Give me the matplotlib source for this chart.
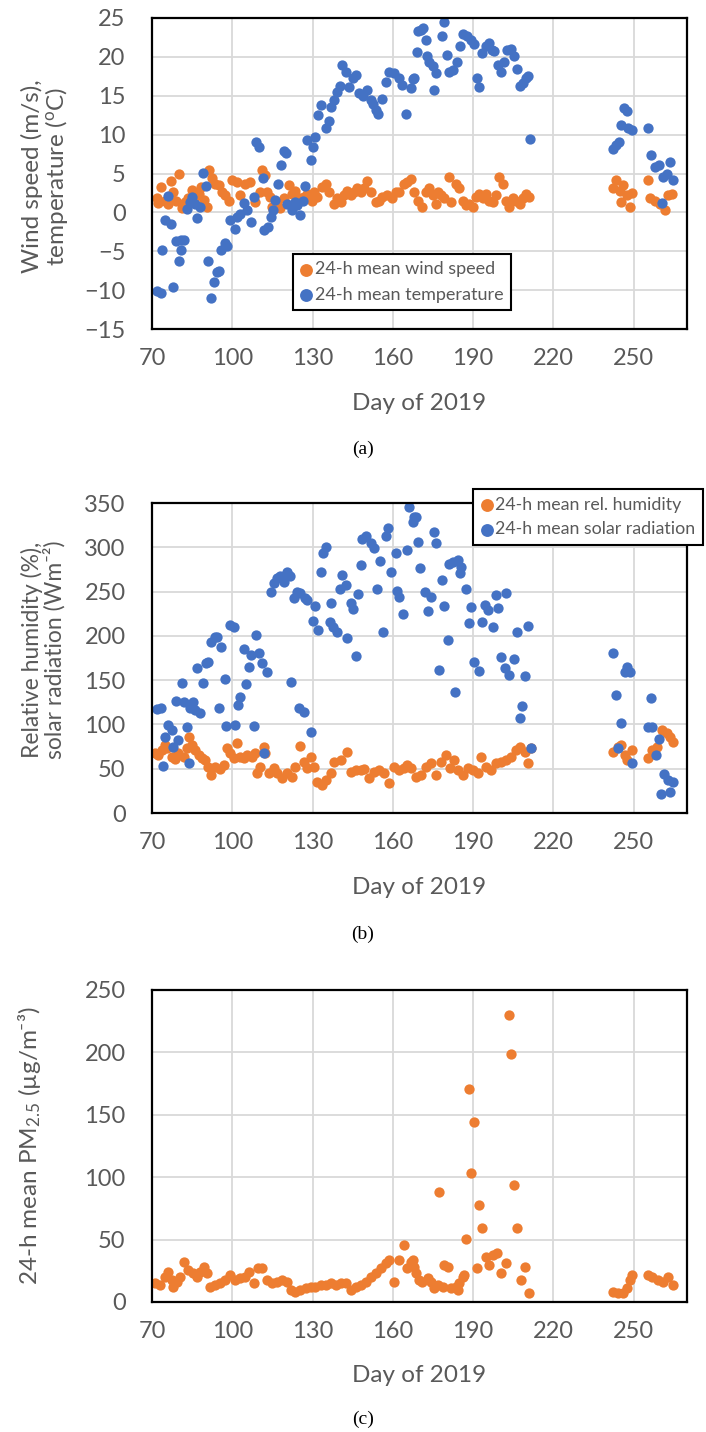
import matplotlib
matplotlib.use("Agg")
import matplotlib.pyplot as plt

# ---------------------------------------------------------------------------
# data (day of 2019, 24-h means)
# ---------------------------------------------------------------------------
wind_day = [72, 72.4, 73.3, 74.9, 76.1, 77, 78, 79, 80.1, 81.1,
            82.4, 83.6, 84.9, 86.1, 87.4, 88.3, 89.3, 90.5, 91.4, 92.4,
            93.6, 95.1, 96.1, 97.4, 98.6, 99.9, 101.8, 103, 104.9, 106.8,
            108.6, 110.3, 111.1, 112.4, 113, 114, 114.9, 116.8, 118, 119.5,
            121.1, 122.4, 123.6, 125.3, 126.8, 128, 129.9, 130.5, 131.8, 133.6,
            134.9, 136.1, 138, 139.3, 140.5, 141.8, 143, 144.3, 145.5, 146.8,
            148, 149.3, 150.3, 151.8, 153.6, 154.9, 156.1, 158, 159.9, 161.1,
            162.4, 164.3, 165.5, 166.8, 168, 169.3, 171.1, 172.4, 173.6, 174.9,
            176.1, 176.8, 178, 179.3, 181.1, 181.8, 183.6, 184.9, 186.1, 187.4,
            188.6, 189.9, 191.1, 192.4, 193.6, 194.9, 196.1, 197.4, 198.6, 199.9,
            201.1, 202.4, 203.6, 204.9, 206.1, 207.4, 208.6, 209.9, 211.1, 242.4,
            243.3, 244.9, 245.5, 246.1, 247.4, 248.6, 249.3, 255.5, 256.1, 258,
            259.9, 261.8, 263, 264.3]
wind = [1.8, 1.2, 3.3, 1.5, 1.1, 4.0, 2.6, 1.5, 5.0, 0.5,
        1.3, 1.8, 2.9, 2.0, 2.4, 3.3, 1.6, 0.7, 5.4, 4.4,
        3.7, 3.5, 2.6, 2.2, 1.5, 4.2, 3.9, 2.2, 3.7, 3.9,
        1.3, 2.6, 5.5, 4.8, 2.6, 2.0, 0.7, 1.3, 0.5, 1.8,
        3.5, 2.4, 2.8, 1.8, 2.0, 2.4, 1.5, 2.6, 2.0, 3.3,
        3.7, 2.6, 1.1, 1.8, 1.3, 2.2, 2.8, 2.2, 2.6, 3.1,
        2.6, 3.1, 4.0, 2.6, 1.3, 1.5, 2.0, 2.2, 1.8, 2.6,
        2.6, 3.7, 3.9, 4.3, 2.6, 1.5, 0.7, 2.6, 3.1, 2.2,
        1.1, 2.6, 2.2, 1.8, 4.6, 1.3, 3.7, 3.1, 1.5, 0.9,
        1.1, 0.7, 2.0, 2.4, 1.8, 2.4, 1.5, 1.3, 2.2, 4.6,
        3.7, 1.5, 0.7, 1.8, 1.5, 1.1, 1.8, 2.4, 2.0, 3.1,
        4.1, 2.8, 1.3, 3.5, 2.2, 0.7, 2.5, 4.1, 1.8, 1.5,
        1.1, 0.3, 2.2, 2.4]

temp_day = [72, 73.2, 73.9, 74.9, 75.9, 77, 78, 78.9, 80.1, 80.8,
            81, 81.8, 83, 84.3, 85, 86, 87, 88, 88.9, 90.1,
            91.1, 92, 93.2, 94.3, 95, 95.9, 97.4, 98, 99.3, 101.1,
            101.8, 103, 104.5, 105.5, 107.1, 108, 109, 110.1, 111.4, 112,
            113.3, 114.3, 115.3, 116.1, 117, 118.3, 119.3, 120.1, 120.5, 122.4,
            123.4, 124.3, 125.3, 126.5, 127.1, 127.8, 129.3, 130.3, 131.1, 132.1,
            133, 135.1, 136.1, 136.8, 138, 139.3, 140.1, 141.1, 142.4, 143.6,
            145.1, 146.1, 147.4, 149, 150.5, 151.8, 152.8, 153.6, 154.5, 156.1,
            157.4, 158.6, 160.5, 162.4, 163.6, 165.1, 166.8, 167.4, 168, 169,
            169.6, 170.5, 171.4, 172.4, 172.8, 173.6, 174.9, 175.3, 176.1, 178.3,
            179.3, 180.3, 181.1, 182.4, 184, 185.3, 186.1, 187.8, 189.3, 190.3,
            191.5, 192.4, 193.3, 194.9, 196.1, 197.1, 198, 199.5, 200.5, 201.5,
            202.8, 204.3, 205.5, 206.5, 207.4, 208.6, 209.9, 210.5, 211.4, 242.4,
            243.6, 244.5, 245.5, 246.4, 247.4, 247.9, 249.3, 255.5, 256.5, 258,
            259.5, 260.5, 261.1, 262.4, 263.6, 264.9]
temp = [-10.1, -10.4, -4.8, -1.0, 2.1, -1.5, -9.6, -3.7, -6.3, -4.8,
        -3.6, -3.5, 0.4, 1.3, 2.0, 1.1, -0.7, 0.7, 5.1, 3.4,
        -6.2, -11.0, -9.0, -7.7, -7.5, -4.8, -4.0, -4.3, -1.0, -2.1,
        -0.6, -0.2, 1.2, 0.3, -1.2, 2.0, 9.1, 8.4, 4.4, -2.3,
        -1.9, -0.6, 0.3, 1.6, 3.7, 6.1, 7.9, 7.6, 1.1, 0.3,
        1.3, 0.9, -0.4, 1.5, 3.4, 9.3, 6.8, 8.4, 9.7, 12.5,
        13.8, 10.8, 11.7, 13.6, 14.5, 15.5, 16.3, 18.9, 18.1, 16.1,
        17.3, 17.7, 15.3, 15.0, 15.8, 14.5, 14.0, 13.2, 12.7, 14.6,
        16.8, 18.1, 17.9, 17.3, 16.4, 12.7, 16.0, 17.1, 17.3, 20.6,
        23.3, 23.5, 23.7, 22.2, 20.1, 19.4, 18.8, 15.7, 17.9, 22.7,
        24.5, 20.2, 18.1, 18.3, 19.4, 21.4, 22.9, 22.7, 22.2, 21.6,
        17.3, 16.1, 20.5, 21.4, 21.8, 20.9, 20.7, 19.0, 18.1, 19.3,
        20.9, 21.0, 20.1, 18.4, 16.2, 16.6, 17.3, 17.5, 9.4, 8.2,
        8.7, 9.0, 11.2, 13.4, 13.0, 10.8, 10.6, 10.8, 7.4, 5.9,
        6.1, 1.2, 4.6, 5.0, 6.5, 4.1]

rh_day = [71, 72.4, 73.6, 74.9, 75.5, 77.4, 78.6, 79.9, 81.8, 83,
          84, 84.9, 86.1, 87.4, 88.6, 89.9, 91.1, 92, 93.6, 95.5,
          96.8, 98, 99.3, 100.5, 101.8, 103, 104.3, 105.5, 107.4, 108.6,
          109.3, 110.5, 111.8, 112.4, 113.6, 115.5, 116.8, 118.6, 120.5, 122.4,
          123.6, 125.3, 126.8, 128, 129.3, 130.5, 131.8, 133.6, 134.9, 136.8,
          138, 140.5, 143, 144.3, 146.1, 148, 149.3, 151.1, 153, 154.9,
          156.8, 158.6, 160.5, 162.4, 164.3, 165.5, 166.8, 168.6, 170.5, 172.4,
          174.3, 176.1, 178, 179.9, 181.5, 183, 184.3, 186.1, 188, 189.9,
          191.8, 193, 194.9, 196.8, 198.6, 200.5, 202.4, 204.3, 206.1, 207.4,
          209.3, 210.5, 211.5, 242.4, 244.3, 245.5, 246.8, 247.4, 249.3, 255.5,
          256.8, 258.6, 260.5, 262.4, 263.6, 264.9]
rh = [67.4, 65.5, 71.2, 76.8, 73.1, 63.7, 60.7, 67.4, 63.7, 73.1,
      86.2, 76.8, 71.2, 65.5, 61.8, 59.9, 52.4, 43.0, 52.4, 49.4,
      54.3, 73.1, 67.4, 61.8, 78.7, 63.7, 61.8, 65.5, 63.7, 67.4,
      44.9, 52.4, 75.0, 67.4, 44.9, 50.5, 44.9, 39.2, 44.9, 41.1,
      52.4, 75.7, 58.0, 50.5, 63.7, 52.4, 35.4, 31.7, 37.3, 44.9,
      58.0, 59.9, 69.3, 46.8, 48.6, 48.6, 49.4, 39.2, 46.8, 48.6,
      44.9, 33.6, 52.4, 48.6, 50.5, 54.3, 50.5, 41.1, 43.0, 52.4,
      56.1, 43.0, 58.0, 65.5, 50.5, 59.9, 48.6, 43.0, 50.5, 48.6,
      44.9, 63.7, 52.4, 48.6, 56.1, 58.0, 59.9, 63.7, 71.2, 75.0,
      69.3, 56.1, 73.1, 69.3, 75.0, 76.9, 65.5, 59.9, 71.2, 61.8,
      71.2, 75.0, 93.8, 90.0, 86.2, 80.6]

solar_day = [71.8, 73.3, 74, 74.9, 76.1, 77.4, 78, 79, 79.9, 81.1,
             82, 83, 84, 84.3, 85.5, 86.1, 87, 88, 89, 90.3,
             91.1, 92, 93.6, 94.3, 94.9, 95.9, 97.4, 97.8, 99.3, 100.5,
             101.1, 102.1, 103, 104.3, 105.3, 106.1, 107.1, 108, 109, 110.1,
             111.1, 112, 113, 114.3, 115.5, 116.8, 118, 119.3, 120.3, 120.5,
             121.5, 122.1, 123, 124.3, 124.9, 125.5, 126.8, 127.1, 128, 129.3,
             130.3, 131.1, 132, 133, 134, 135.1, 136.5, 137.1, 137.8, 139,
             140.1, 141.1, 142.4, 143, 144.3, 145.1, 146.1, 147.1, 148, 148.6,
             150.1, 151.8, 153, 154, 155.3, 156.4, 157.4, 158.3, 159.3, 161.1,
             161.6, 162.4, 164, 165.3, 166.1, 167.4, 168, 168.6, 169.5, 170.3,
             172, 173.3, 174.3, 175.3, 176.1, 177.4, 178.3, 179.3, 180.5, 181.1,
             182.4, 183.3, 184.3, 185.3, 185.5, 187.4, 188.4, 189.3, 190.5, 192.4,
             193.3, 194.5, 195.5, 197.4, 198.6, 199.5, 200.3, 201.8, 202.4, 203.6,
             205.5, 206.5, 207.4, 208.4, 209.3, 210.5, 211.5, 242.4, 243.3, 244.3,
             245.3, 246.8, 247.4, 248.6, 249.3, 255.3, 256.5, 256.8, 258.4, 259.5,
             260.3, 261.5, 263, 263.6, 264.9]
solar = [117.5, 118.2, 53.1, 86.2, 99.4, 93.8, 75.0, 126.9, 82.5, 146.4,
         125.0, 96.8, 56.0, 118.0, 125.8, 116.3, 163.4, 112.6, 146.4, 169.8,
         171.0, 193.5, 199.1, 199.0, 118.0, 187.8, 151.0, 98.3, 212.3, 210.4,
         99.4, 122.0, 131.4, 184.8, 145.7, 165.3, 178.4, 98.3, 201.0, 181.0,
         169.0, 67.4, 159.6, 250.0, 259.3, 265.0, 267.6, 261.2, 272.5, 271.4,
         267.6, 148.3, 242.4, 250.0, 118.2, 248.0, 114.5, 242.4, 240.5, 91.9,
         217.2, 233.7, 206.7, 272.5, 293.2, 300.0, 216.0, 237.5, 210.4, 204.8,
         252.6, 268.7, 257.4, 197.3, 237.5, 230.0, 177.7, 247.3, 280.0, 309.0,
         313.2, 304.5, 298.8, 252.6, 284.9, 204.8, 312.8, 321.4, 272.5, 293.2,
         251.1, 243.5, 224.7, 297.0, 345.9, 328.9, 334.6, 334.0, 306.4, 276.3,
         249.9, 228.1, 244.3, 317.7, 305.2, 161.5, 263.1, 233.7, 195.4, 281.2,
         283.8, 137.1, 285.7, 270.6, 277.4, 252.6, 214.2, 232.2, 170.9, 160.4,
         216.1, 234.9, 229.2, 210.4, 246.2, 231.1, 176.5, 163.4, 248.8, 155.9,
         173.5, 204.8, 106.9, 120.9, 155.0, 211.2, 73.1, 180.3, 133.3, 73.8,
         101.3, 159.6, 164.5, 159.6, 56.1, 97.5, 129.5, 96.8, 65.5, 83.2,
         21.5, 44.1, 37.3, 24.1, 35.4]

pm_day = [71.1, 73, 74.9, 76.1, 77.4, 78, 79.3, 80.5, 82, 83.6,
          85.5, 86.8, 88, 89.3, 90.5, 91.8, 93.6, 95.5, 97.4, 99.3,
          101, 103, 104.9, 106.1, 108, 109.5, 111.1, 113, 114.9, 116.8,
          118.6, 120.5, 121.8, 123.6, 125.5, 127.4, 129.3, 131.1, 133, 134.9,
          136.8, 138.6, 140.5, 142.4, 144.3, 146.1, 148, 149.9, 151.8, 153.6,
          155.5, 157.4, 158.6, 160.5, 162.4, 164.3, 165.5, 166.8, 167.4, 168,
          168.6, 169.9, 171.1, 173, 174.3, 175.5, 176.8, 177.4, 178.6, 179.3,
          180.5, 181.8, 183.6, 184.3, 184.9, 186.1, 186.8, 187.4, 188.4, 189.3,
          190.3, 191.4, 192.4, 193.3, 194.9, 196.1, 197.4, 199, 200.5, 202.4,
          203.4, 204.3, 205.5, 206.4, 208, 209.3, 210.8, 242.4, 244.3, 246.1,
          247.4, 248.6, 249.3, 255.5, 256.8, 259.3, 261.1, 263, 264.6]
pm25 = [15.0, 13.6, 20.3, 24.3, 17.6, 12.3, 16.3, 20.3, 32.3, 25.6,
        23.0, 20.3, 24.3, 28.3, 23.0, 12.3, 13.6, 15.0, 17.6, 21.6,
        17.6, 19.0, 20.3, 24.3, 15.0, 27.0, 27.0, 17.6, 15.0, 16.3,
        17.6, 16.3, 9.6, 8.3, 9.6, 11.0, 12.3, 12.3, 13.6, 13.6,
        15.0, 13.6, 15.0, 15.0, 9.6, 12.3, 13.6, 16.3, 20.3, 23.0,
        27.0, 31.0, 33.7, 16.3, 33.7, 45.7, 27.0, 32.3, 33.7, 28.3,
        23.0, 17.6, 16.3, 19.0, 16.3, 10.9, 13.6, 88.4, 12.3, 29.6,
        28.3, 10.9, 12.3, 9.6, 15.0, 20.3, 21.6, 50.2, 170.7, 103.1,
        144.0, 27.0, 77.7, 59.6, 36.3, 29.7, 37.7, 39.0, 23.0, 31.0,
        230.0, 198.7, 93.8, 59.6, 17.6, 28.3, 7.0, 8.3, 7.0, 7.0,
        11.0, 17.6, 21.6, 21.6, 20.3, 17.6, 16.3, 20.3, 13.6]

x_ticks = [70, 100, 130, 160, 190, 220, 250]

# ---------------------------------------------------------------------------
ORANGE = '#ED7D31'
BLUE = '#4472C4'
GREY = '#595959'
FONT = 'Lato'

plt.rcParams['font.family'] = [FONT, 'DejaVu Sans']
plt.rcParams['mathtext.fontset'] = 'custom'
plt.rcParams['mathtext.rm'] = FONT
plt.rcParams['mathtext.it'] = FONT

W, H = 706, 1432
fig = plt.figure(figsize=(W / 100, H / 100), dpi=100)


def px_box(left, top, right, bottom):
    return [left / W, 1 - bottom / H, (right - left) / W, (bottom - top) / H]


def style(ax, ylim, yticks):
    ax.set_xlim(70, 270)
    ax.set_ylim(*ylim)
    ax.set_xticks(x_ticks)
    ax.set_yticks(yticks)
    ax.grid(True, color='#D9D9D9', lw=1.3)
    ax.set_axisbelow(True)
    ax.tick_params(length=0, labelsize=17, colors=GREY)
    ax.tick_params(axis='y', pad=19)
    ax.tick_params(axis='x', pad=14)
    for s in ax.spines.values():
        s.set_color('black')
        s.set_linewidth(1.6)


def add_legend(ax, cx, cy, size):
    leg = ax.legend(loc='center', bbox_to_anchor=(cx / W, 1 - cy / H),
                    bbox_transform=fig.transFigure, fontsize=size, frameon=True,
                    fancybox=False, edgecolor='black', framealpha=1,
                    markerscale=1.25, handlelength=0.7, handletextpad=0.15,
                    borderpad=0.4, labelspacing=0.5, borderaxespad=0,
                    labelcolor=GREY)
    leg.get_frame().set_linewidth(1.5)


S = 55

## (a) wind speed and temperature
ax1 = fig.add_axes(px_box(152, 18, 687, 329))
ax1.scatter(wind_day, wind, s=S, color=ORANGE, lw=0, label='24-h mean wind speed')
ax1.scatter(temp_day, temp, s=S, color=BLUE, lw=0, label='24-h mean temperature')
style(ax1, (-15, 25), range(-15, 26, 5))
add_legend(ax1, 402, 282, 13)
fig.text(45 / W, 1 - 176 / H, 'Wind speed (m/s),\ntemperature ($^{\\mathrm{o}}$C)',
         rotation=90, ha='center', va='center', fontsize=17.5, color=GREY,
         multialignment='center', linespacing=1.0)

## (b) relative humidity and solar radiation
ax2 = fig.add_axes(px_box(152, 503, 687, 813))
ax2.scatter(rh_day, rh, s=S, color=ORANGE, lw=0, label='24-h mean rel. humidity')
ax2.scatter(solar_day, solar, s=S, color=BLUE, lw=0, label='24-h mean solar radiation')
style(ax2, (0, 350), range(0, 351, 50))
add_legend(ax2, 588, 517, 12.8)
fig.text(43 / W, 1 - 650 / H, 'Relative humidity (%),\nsolar radiation (Wm\u207b\u00b2)',
         rotation=90, ha='center', va='center', fontsize=16.5, color=GREY,
         multialignment='center', linespacing=1.0)

## (c) PM2.5
ax3 = fig.add_axes(px_box(152, 990, 687, 1302))
ax3.scatter(pm_day, pm25, s=S, color=ORANGE, lw=0)
style(ax3, (0, 250), range(0, 251, 50))
fig.text(30 / W, 1 - 1146 / H, '24-h mean PM$_{2.5}$ (\u00b5g/m\u207b\u00b3)',
         rotation=90, ha='center', va='center', fontsize=17.5, color=GREY)

# x labels and captions
for ax, y_lab, y_cap, cap in [(ax1, 404, 449, '(a)'), (ax2, 888, 934, '(b)'),
                              (ax3, 1375, 1419, '(c)')]:
    fig.text(419 / W, 1 - y_lab / H, 'Day of 2019', ha='center', va='center',
             fontsize=17.5, color=GREY)
    fig.text(363 / W, 1 - y_cap / H, cap, ha='center', va='center',
             fontsize=14, family='Liberation Serif', color='black')

fig.savefig('out.png', dpi=100)
